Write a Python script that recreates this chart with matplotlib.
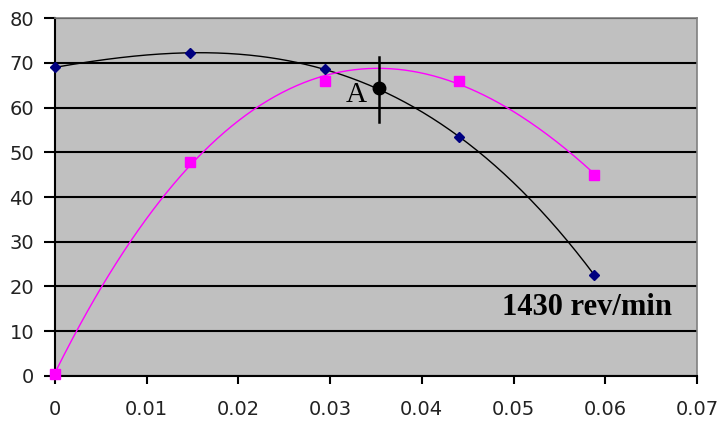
import matplotlib
matplotlib.use("Agg")
import matplotlib.pyplot as plt
import numpy as np

# measured points (slip, value)
slip = [0.0, 0.0147, 0.0294, 0.0441, 0.0588]
torque = [69.0, 72.2, 68.6, 53.4, 22.6]
power = [0.5, 47.8, 65.9, 66.0, 45.0]

# operating point A
point_a_x = 0.0353
point_a_y = 64.4
point_a_span = [56.8, 71.3]

x_ticks = [0, 0.01, 0.02, 0.03, 0.04, 0.05, 0.06, 0.07]
x_tick_labels = ["0", "0.01", "0.02", "0.03", "0.04", "0.05", "0.06", "0.07"]
y_ticks = [0, 10, 20, 30, 40, 50, 60, 70, 80]

fig = plt.figure(figsize=(7.17, 4.21), dpi=100)
ax = fig.add_axes([0.0767, 0.107, 0.8953, 0.850])
ax.set_facecolor("#C0C0C0")

# Excel style 3rd order trendlines
xs = np.linspace(0, max(slip), 300)
c_t = np.polyfit(slip, torque, 3)
c_p = np.polyfit(slip, power, 3)
ax.plot(xs, np.polyval(c_t, xs), color="black", lw=1.0, zorder=3)
ax.plot(xs, np.polyval(c_p, xs), color="#FF00FF", lw=1.0, zorder=3)

ax.plot(slip, torque, linestyle="none", marker="D", markersize=5.5,
        color="#000080", zorder=4, clip_on=False)
ax.plot(slip, power, linestyle="none", marker="s", markersize=6.5,
        color="#FF00FF", zorder=4, clip_on=False)

# point A
ax.plot([point_a_x, point_a_x], point_a_span, color="black", lw=1.8, zorder=5)
ax.plot(point_a_x, point_a_y, marker="o", markersize=9, color="black", zorder=6)
ax.text(0.0329, 62.8, "A", family="Liberation Serif", fontsize=21,
        ha="center", va="center", zorder=6)
ax.text(0.0487, 15.2, "1430 rev/min", family="Liberation Serif",
        fontweight="bold", fontsize=22, ha="left", va="center", zorder=6)

ax.set_xlim(0, 0.07)
ax.set_ylim(0, 80)
ax.set_xticks(x_ticks)
ax.set_xticklabels(x_tick_labels)
ax.set_yticks(y_ticks)
ax.yaxis.grid(True, color="black", lw=1.5)
ax.set_axisbelow(True)

for s in ["top", "right"]:
    ax.spines[s].set_color("#808080")
    ax.spines[s].set_linewidth(1.2)
for s in ["left", "bottom"]:
    ax.spines[s].set_color("black")
    ax.spines[s].set_linewidth(1.5)

ax.tick_params(axis="x", direction="out", length=6, width=1.5, pad=11,
               labelsize=14, colors="black", labelcolor="#222222")
ax.tick_params(axis="y", direction="out", length=8, width=1.5, pad=7,
               labelsize=14, colors="black", labelcolor="#222222")

fig.savefig("out.png", dpi=100)
